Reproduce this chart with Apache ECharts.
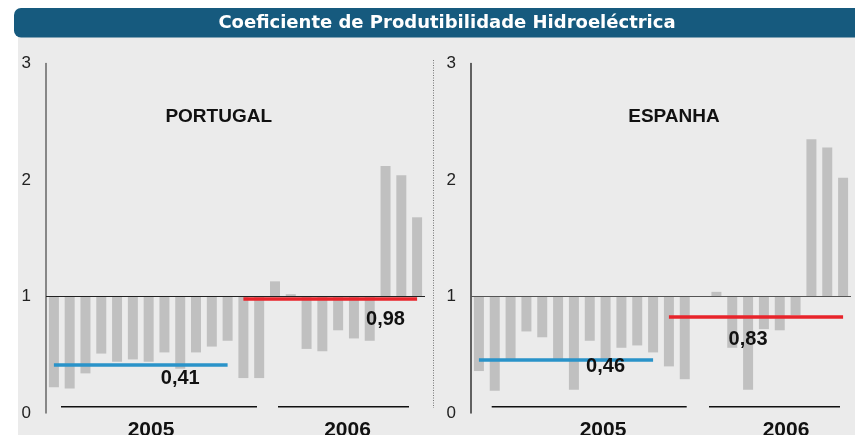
<!DOCTYPE html>
<html>
<head>
<meta charset="utf-8">
<script src="https://cdn.jsdelivr.net/npm/echarts@6/dist/echarts.min.js"></script>
<style>html,body{margin:0;padding:0;background:#fff}#c{width:855px;height:435px}</style>
</head>
<body>
<div id="c"></div>
<script>
const categories = ['Jan 05','Fev 05','Mar 05','Abr 05','Mai 05','Jun 05','Jul 05','Ago 05','Set 05','Out 05','Nov 05','Dez 05',
                    'Jan 06','Fev 06','Mar 06','Abr 06','Mai 06','Jun 06','Jul 06','Ago 06','Set 06','Out 06','Nov 06','Dez 06'];
const portugal = [0.22,0.21,0.34,0.51,0.44,0.46,0.44,0.52,0.38,0.52,0.57,0.62,0.30,0.30,1.13,1.02,0.55,0.53,0.71,0.64,0.62,2.12,2.04,1.68];
const espanha  = [0.36,0.19,0.45,0.70,0.65,0.45,0.20,0.62,0.44,0.56,0.58,0.52,0.40,0.29,1.00,1.04,0.56,0.20,0.72,0.71,0.84,2.35,2.28,2.02];
const avgPortugal = [0.41, 0.98];
const avgEspanha = [0.46, 0.83];
const avgLabelsPortugal = ['0,41', '0,98'];
const avgLabelsEspanha = ['0,46', '0,83'];
const yTicks = [0, 1, 2, 3];
const baseline = 1;
const panelTitles = ['PORTUGAL', 'ESPANHA'];
const years = ['2005', '2006'];

const chart = echarts.init(document.getElementById('c'), null, {renderer: 'canvas'});
const FONT = 'Liberation Sans';
const BLUE = '#2a93c9', RED = '#e8242b', BAR = '#c0c0c0';

function panelSeries(idx, values, avgs, avgLabels, labelSpots) {
  const base = values.map(v => Math.min(v, baseline));
  const delta = values.map(v => Math.abs(v - baseline));
  return [
    {type: 'bar', xAxisIndex: idx, yAxisIndex: idx, stack: 's' + idx, data: base, barWidth: 10,
     itemStyle: {color: 'transparent'}, silent: true},
    {type: 'bar', xAxisIndex: idx, yAxisIndex: idx, stack: 's' + idx, data: delta, barWidth: 10,
     itemStyle: {color: BAR},
     markLine: {silent: true, symbol: 'none', animation: false,
       data: [
         {yAxis: baseline, lineStyle: {color: idx === 0 ? '#222' : '#555', width: 1, type: 'solid'}, label: {show: false}},
         [{coord: [0, avgs[0]], lineStyle: {color: BLUE, width: 3.5, type: 'solid'}, label: {show: false}}, {coord: [11, avgs[0]]}],
         [{coord: [12, avgs[1]], lineStyle: {color: RED, width: 3.5, type: 'solid'}, label: {show: false}}, {coord: [23, avgs[1]]}]
       ]},
     markPoint: {silent: true, symbol: 'circle', symbolSize: 0, animation: false,
       data: [0, 1].map(k => ({coord: [labelSpots[k][0], avgs[k]],
         label: {show: true, position: 'inside', offset: [0, labelSpots[k][1]], formatter: avgLabels[k],
                 fontFamily: FONT, fontWeight: 'bold', fontSize: 20, color: '#111'}}))}
    }
  ];
}

const yAxisCommon = {type: 'value', min: yTicks[0], max: yTicks[yTicks.length - 1], interval: 1,
  splitLine: {show: false}, axisTick: {show: false},
  axisLabel: {fontFamily: FONT, fontSize: 17, color: '#222', margin: 15}};

const option = {
  backgroundColor: '#ffffff',
  animation: false,
  grid: [
    {left: 46, top: 63.5, width: 379, height: 349.5},
    {left: 471, top: 63.5, width: 380, height: 349.5}
  ],
  xAxis: [0, 1].map(i => ({type: 'category', gridIndex: i, data: categories, show: false})),
  yAxis: [0, 1].map(i => Object.assign({}, yAxisCommon, {gridIndex: i,
    axisLine: {show: true, lineStyle: {color: i === 0 ? '#666' : '#333', width: 1.5}}})),
  series: [].concat(
    panelSeries(0, portugal, avgPortugal, avgLabelsPortugal, [[8, 13], [20.85, 21]]),
    panelSeries(1, espanha, avgEspanha, avgLabelsEspanha, [[7.83, 7], [17.1, 23]])
  ),
  graphic: [
    {type: 'rect', z: -100, silent: true, shape: {x: 18, y: 37, width: 837, height: 398}, style: {fill: '#ebebeb'}},
    {type: 'rect', z: 10, silent: true, shape: {x: 14, y: 8, width: 851, height: 29.5, r: [7, 0, 0, 7]}, style: {fill: '#165a7e'}},
    {type: 'text', z: 11, silent: true, x: 447, y: 23, style: {text: 'Coeficiente de Produtibilidade Hidroeléctrica',
      fill: '#ffffff', font: 'bold 18px "DejaVu Sans"', align: 'center', verticalAlign: 'middle'}},
    {type: 'line', z: 5, silent: true, shape: {x1: 433.5, y1: 60, x2: 433.5, y2: 408}, style: {stroke: '#777', lineWidth: 1, lineDash: [1, 1.5]}},
    {type: 'text', z: 5, x: 218.7, y: 117, style: {text: panelTitles[0], fill: '#111', font: 'bold 19px "Liberation Sans"', align: 'center', verticalAlign: 'middle'}},
    {type: 'text', z: 5, x: 674, y: 117, style: {text: panelTitles[1], fill: '#111', font: 'bold 19px "Liberation Sans"', align: 'center', verticalAlign: 'middle'}},
    {type: 'line', z: 5, shape: {x1: 61, y1: 406.7, x2: 257, y2: 406.7}, style: {stroke: '#111', lineWidth: 1.5}},
    {type: 'line', z: 5, shape: {x1: 278, y1: 406.7, x2: 409, y2: 406.7}, style: {stroke: '#111', lineWidth: 1.5}},
    {type: 'line', z: 5, shape: {x1: 491.7, y1: 406.7, x2: 686.7, y2: 406.7}, style: {stroke: '#111', lineWidth: 1.5}},
    {type: 'line', z: 5, shape: {x1: 709, y1: 406.7, x2: 840, y2: 406.7}, style: {stroke: '#111', lineWidth: 1.5}},
    {type: 'text', z: 5, x: 151, y: 430, style: {text: years[0], fill: '#111', font: 'bold 21px "Liberation Sans"', align: 'center', verticalAlign: 'middle'}},
    {type: 'text', z: 5, x: 347.5, y: 430, style: {text: years[1], fill: '#111', font: 'bold 21px "Liberation Sans"', align: 'center', verticalAlign: 'middle'}},
    {type: 'text', z: 5, x: 603, y: 430, style: {text: years[0], fill: '#111', font: 'bold 21px "Liberation Sans"', align: 'center', verticalAlign: 'middle'}},
    {type: 'text', z: 5, x: 786, y: 430, style: {text: years[1], fill: '#111', font: 'bold 21px "Liberation Sans"', align: 'center', verticalAlign: 'middle'}}
  ]
};
chart.setOption(option);
</script>
</body>
</html>
